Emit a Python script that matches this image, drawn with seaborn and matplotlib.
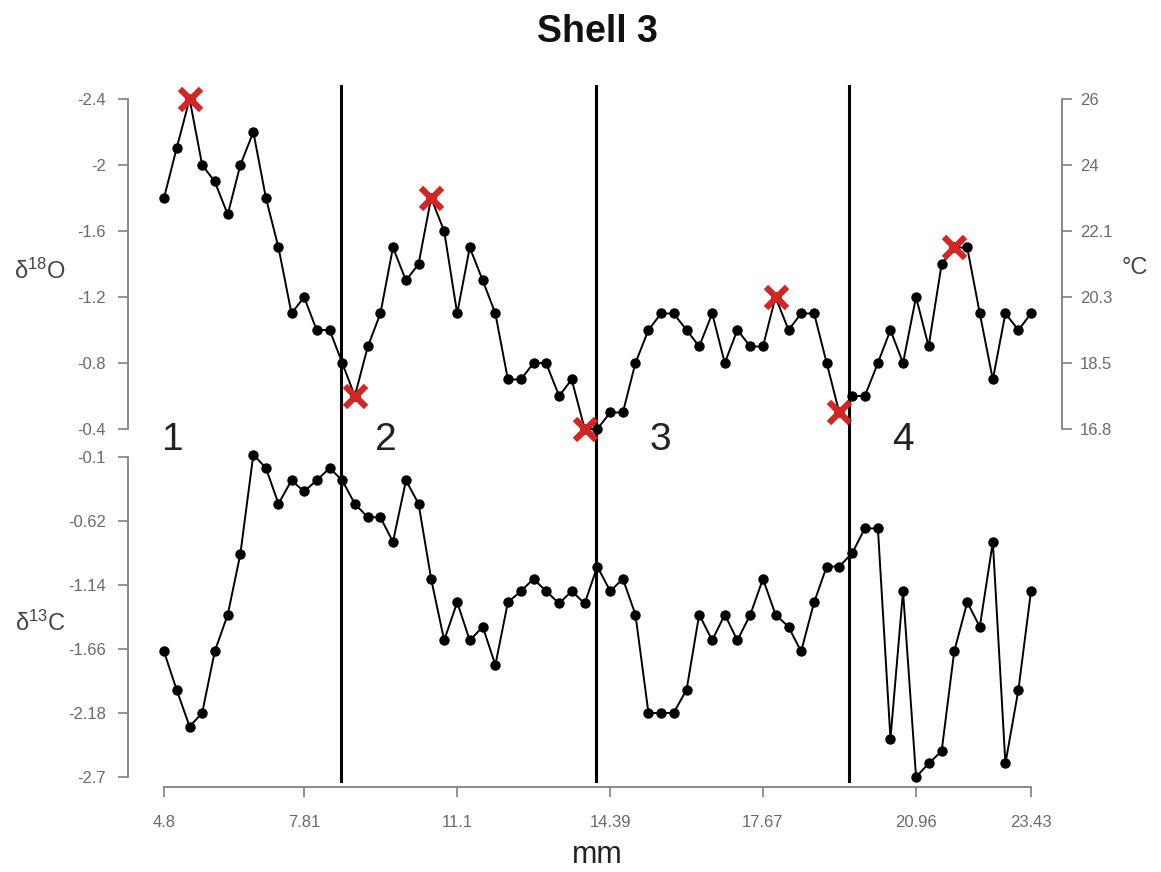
import matplotlib
matplotlib.use("Agg")
import matplotlib.pyplot as plt
import seaborn as sns
import pandas as pd

# ---------------- data ----------------
mm = [4.80, 5.07, 5.35, 5.62, 5.89, 6.17, 6.44, 6.72, 6.99, 7.26, 7.54, 7.81,
      8.08, 8.36, 8.63, 8.90, 9.18, 9.45, 9.72, 10.00, 10.27, 10.54, 10.82, 11.10,
      11.37, 11.65, 11.92, 12.19, 12.47, 12.74, 13.01, 13.29, 13.56, 13.84, 14.11, 14.39,
      14.66, 14.93, 15.21, 15.48, 15.75, 16.03, 16.30, 16.58, 16.85, 17.12, 17.40, 17.67,
      17.94, 18.22, 18.49, 18.77, 19.04, 19.31, 19.59, 19.86, 20.14, 20.41, 20.68, 20.96,
      21.23, 21.51, 21.78, 22.06, 22.33, 22.61, 22.88, 23.16, 23.43]

d18O = [-1.8, -2.1, -2.4, -2.0, -1.9, -1.7, -2.0, -2.2, -1.8, -1.5, -1.1, -1.2,
        -1.0, -1.0, -0.8, -0.6, -0.9, -1.1, -1.5, -1.3, -1.4, -1.8, -1.6, -1.1,
        -1.5, -1.3, -1.1, -0.7, -0.7, -0.8, -0.8, -0.6, -0.7, -0.4, -0.4, -0.5,
        -0.5, -0.8, -1.0, -1.1, -1.1, -1.0, -0.9, -1.1, -0.8, -1.0, -0.9, -0.9,
        -1.2, -1.0, -1.1, -1.1, -0.8, -0.5, -0.6, -0.6, -0.8, -1.0, -0.8, -1.2,
        -0.9, -1.4, -1.5, -1.5, -1.1, -0.7, -1.1, -1.0, -1.1]

d13C = [-1.68, -1.99, -2.29, -2.18, -1.68, -1.38, -0.89, -0.08, -0.19, -0.48, -0.29, -0.38,
        -0.29, -0.19, -0.29, -0.48, -0.59, -0.59, -0.79, -0.29, -0.48, -1.09, -1.59, -1.28,
        -1.59, -1.48, -1.79, -1.28, -1.19, -1.09, -1.19, -1.29, -1.19, -1.29, -0.99, -1.19,
        -1.09, -1.38, -2.18, -2.18, -2.18, -1.99, -1.38, -1.59, -1.38, -1.59, -1.38, -1.09,
        -1.38, -1.48, -1.68, -1.28, -0.99, -0.99, -0.88, -0.68, -0.68, -2.39, -1.19, -2.70,
        -2.59, -2.49, -1.68, -1.28, -1.48, -0.79, -2.59, -1.99, -1.19]

extreme_idx = [2, 15, 21, 33, 48, 53, 62]          # red X marks on d18O
boundaries = [8.60, 14.08, 19.52]                  # vertical lines (mm)
period_labels = ["1", "2", "3", "4"]
period_x = [4.99, 9.57, 15.46, 20.68]

x_ticks = [4.8, 7.81, 11.1, 14.39, 17.67, 20.96, 23.43]
x_ticklabels = ["4.8", "7.81", "11.1", "14.39", "17.67", "20.96", "23.43"]
o_ticks = [-2.4, -2.0, -1.6, -1.2, -0.8, -0.4]
o_ticklabels = ["-2.4", "-2", "-1.6", "-1.2", "-0.8", "-0.4"]
t_ticklabels = ["26", "24", "22.1", "20.3", "18.5", "16.8"]
c_ticks = [-0.1, -0.62, -1.14, -1.66, -2.18, -2.7]
c_ticklabels = ["-0.1", "-0.62", "-1.14", "-1.66", "-2.18", "-2.7"]

df = pd.DataFrame({"mm": mm, "d18O": d18O, "d13C": d13C})
ext = df.iloc[extreme_idx]

# ---------------- style ----------------
sns.set_style("white")
plt.rcParams["font.family"] = ["Liberation Sans", "DejaVu Sans"]
plt.rcParams["mathtext.fontset"] = "custom"
plt.rcParams["mathtext.rm"] = "Liberation Sans"
plt.rcParams["mathtext.it"] = "Liberation Sans:italic"
plt.rcParams["mathtext.default"] = "regular"

W, H = 1161, 872
fig = plt.figure(figsize=(W / 100, H / 100), dpi=100)
fig.patch.set_facecolor("white")

def frac_box(x0, y0, x1, y1):
    return [x0 / W, 1 - y1 / H, (x1 - x0) / W, (y1 - y0) / H]

pxmm = (1031 - 164) / (23.43 - 4.8)
xl = (4.8 - (164 - 128) / pxmm, 23.43 + (1062 - 1031) / pxmm)

SPINE = "#808080"
TXT = "#6a6a6a"
LINE_KW = dict(color="black", linewidth=1.4, marker="o", markersize=7.5,
               markeredgecolor="black", markeredgewidth=0, estimator=None,
               sort=False)

# background axes for vertical lines and period numbers
ax_bg = fig.add_axes(frac_box(128, 85, 1062, 783))
ax_bg.set_xlim(*xl)
ax_bg.set_ylim(0, 1)
ax_bg.axis("off")
for b in boundaries:
    ax_bg.axvline(b, color="black", linewidth=2.2)
for lx, lab in zip(period_x, period_labels):
    ax_bg.text(lx, (783 - 440) / 698, lab, fontsize=28, color="#222222",
               ha="center", va="center")

# ---------- top panel: d18O ----------
ax_o = fig.add_axes(frac_box(128, 99, 1062, 429))
ax_o.patch.set_alpha(0)
sns.lineplot(data=df, x="mm", y="d18O", ax=ax_o, **LINE_KW)
sns.scatterplot(data=ext, x="mm", y="d18O", ax=ax_o, marker="x", s=230,
                color="#d42424", linewidth=4.5, zorder=5)
for c in ax_o.collections:
    c.set_clip_on(False)
for ln in ax_o.lines:
    ln.set_clip_on(False)
ax_o.set_xlim(*xl)
ax_o.set_ylim(-0.4, -2.4)
ax_o.set_xlabel("")
ax_o.set_ylabel("")
ax_o.set_xticks([])
for s in ["top", "bottom", "right"]:
    ax_o.spines[s].set_visible(False)
ax_o.spines["left"].set_color(SPINE)
ax_o.spines["left"].set_linewidth(1.3)
ax_o.set_yticks(o_ticks)
ax_o.set_yticklabels(o_ticklabels)
ax_o.tick_params(axis="y", direction="out", length=7, width=1.2, color=SPINE,
                 labelcolor=TXT, labelsize=12, pad=9, left=True)

ax_t = ax_o.twinx()
ax_t.set_ylim(-0.4, -2.4)
ax_t.set_yticks(o_ticks)
ax_t.set_yticklabels(t_ticklabels)
for s in ["top", "bottom", "left"]:
    ax_t.spines[s].set_visible(False)
ax_t.spines["right"].set_color(SPINE)
ax_t.spines["right"].set_linewidth(1.3)
ax_t.tick_params(axis="y", direction="out", length=7, width=1.2, color=SPINE,
                 labelcolor=TXT, labelsize=12, pad=6, right=True)
ax_t.set_ylabel("")

# ---------- bottom panel: d13C ----------
ax_c = fig.add_axes(frac_box(128, 457, 1062, 777))
ax_c.patch.set_alpha(0)
sns.lineplot(data=df, x="mm", y="d13C", ax=ax_c, **LINE_KW)
for ln in ax_c.lines:
    ln.set_clip_on(False)
ax_c.set_xlim(*xl)
ax_c.set_ylim(-2.7, -0.1)
ax_c.set_xlabel("")
ax_c.set_ylabel("")
for s in ["top", "right"]:
    ax_c.spines[s].set_visible(False)
for s in ["left", "bottom"]:
    ax_c.spines[s].set_color(SPINE)
    ax_c.spines[s].set_linewidth(1.3)
ax_c.spines["bottom"].set_position(("outward", 7.2))
ax_c.spines["bottom"].set_bounds(4.8, 23.43)
ax_c.set_yticks(c_ticks)
ax_c.set_yticklabels(c_ticklabels)
ax_c.set_xticks(x_ticks)
ax_c.set_xticklabels(x_ticklabels)
ax_c.tick_params(axis="y", direction="out", length=7, width=1.2, color=SPINE,
                 labelcolor=TXT, labelsize=12, pad=9, left=True)
ax_c.tick_params(axis="x", direction="out", length=7, width=1.2, color=SPINE,
                 labelcolor=TXT, labelsize=12, pad=13, bottom=True)

# ---------- texts ----------
fig.text(597 / W, 1 - 32 / H, "Shell 3", fontsize=27, fontweight="bold",
         ha="center", va="center", color="#111111")
fig.text(597 / W, 1 - 855 / H, "mm", fontsize=22, ha="center", va="center",
         color="#222222")
fig.text(40 / W, 1 - 271 / H, r"$\delta^{18}$O", fontsize=17, ha="center",
         va="center", color="#444444")
fig.text(40 / W, 1 - 623 / H, r"$\delta^{13}$C", fontsize=17, ha="center",
         va="center", color="#444444")
fig.text(1135 / W, 1 - 268 / H, "°C", fontsize=17, ha="center", va="center",
         color="#444444")

fig.savefig("out.png", dpi=100)
